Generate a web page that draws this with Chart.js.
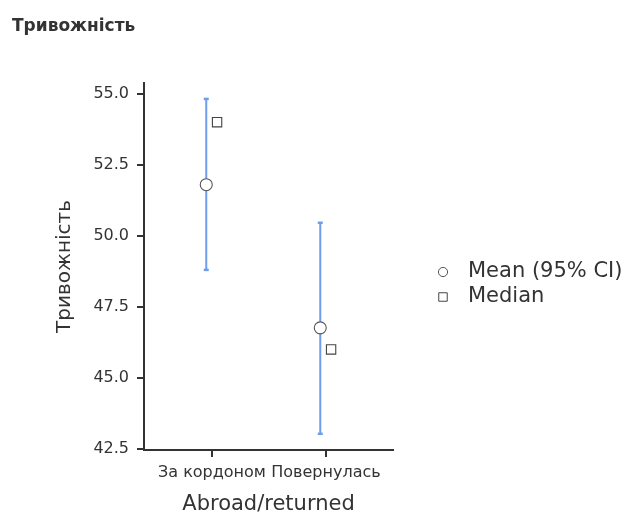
<!DOCTYPE html>
<html><head><meta charset="utf-8">
<script src="https://cdn.jsdelivr.net/npm/chart.js@4/dist/chart.umd.min.js"></script>
<style>html,body{margin:0;padding:0;background:#fff}#wrap{width:632px;height:518px;position:relative}</style>
</head><body><div id="wrap"><canvas id="c" width="632" height="518"></canvas></div>
<script>
const chartTitle = 'Тривожність';
const categories = ['За кордоном', 'Повернулась'];
const means = [51.8, 46.76];
const ciLower = [48.8, 43.03];
const ciUpper = [54.82, 50.46];
const medians = [54.0, 46.0];
const yTicks = [42.5, 45.0, 47.5, 50.0, 52.5, 55.0];
const seriesNames = ['Mean (95% CI)', 'Median'];
const xTitle = 'Abroad/returned';
const yTitle = 'Тривожність';

const FONT = "'DejaVu Sans', Verdana, sans-serif";
const TEXT = '#333333';
const AXIS = '#333333';
const CI_COLOR = '#6d9eeb';
const MEAN_SHIFT = -0.05, MED_SHIFT = 0.045;

const datasets = [
  {
    type: 'scatter', label: seriesNames[0],
    data: means.map((v, i) => ({x: i + MEAN_SHIFT, y: v})),
    pointStyle: 'circle', pointRadius: 6, pointBackgroundColor: '#ffffff',
    pointBorderColor: '#555555', pointBorderWidth: 1.1
  },
  {
    type: 'scatter', label: seriesNames[1],
    data: medians.map((v, i) => ({x: i + MED_SHIFT, y: v})),
    pointStyle: 'rect', pointRadius: 6.6, pointBackgroundColor: '#ffffff',
    pointBorderColor: '#444444', pointBorderWidth: 1.1
  }
];
categories.forEach((c, i) => {
  datasets.push({
    type: 'line', label: 'ci' + i,
    data: [{x: i + MEAN_SHIFT, y: ciLower[i]}, {x: i + MEAN_SHIFT, y: ciUpper[i]}],
    borderColor: CI_COLOR, borderWidth: 2, showLine: true,
    pointStyle: 'line', pointRadius: 2.5, pointBorderColor: CI_COLOR,
    pointBorderWidth: 2.5, pointBackgroundColor: CI_COLOR
  });
});

const sideLegend = {
  id: 'sideLegend',
  afterDraw(chart) {
    const ctx = chart.ctx;
    const ca = chart.chartArea;
    const styles = [{ds: 0, style: 'circle', r: 4.6}, {ds: 1, style: 'rect', r: 6}];
    ctx.save();
    styles.forEach((s, k) => {
      const ds = chart.data.datasets[s.ds];
      const y = 272 + k * 25;
      const x = ca.right + 50;
      ctx.fillStyle = '#ffffff';
      ctx.strokeStyle = ds.pointBorderColor;
      ctx.lineWidth = 1;
      Chart.helpers.drawPoint(ctx, {pointStyle: s.style, radius: s.r, borderWidth: 1}, x, y);
      ctx.fillStyle = TEXT;
      ctx.font = "21px " + FONT;
      ctx.textBaseline = 'middle';
      ctx.textAlign = 'left';
      ctx.fillText(ds.label, ca.right + 75, y);
    });
    ctx.restore();
  }
};

new Chart(document.getElementById('c'), {
  data: {datasets},
  plugins: [sideLegend],
  options: {
    responsive: false,
    animation: false,
    layout: {padding: {left: 12, right: 239, top: 0, bottom: 0}},
    plugins: {
      legend: {display: false},
      tooltip: {enabled: false},
      title: {
        display: true, text: chartTitle, align: 'start', color: TEXT,
        font: {family: FONT, size: 17, weight: 'bold'},
        padding: {top: 16.6, bottom: 46}
      }
    },
    scales: {
      x: {
        type: 'linear', min: -0.596, max: 1.588,
        afterBuildTicks: (s) => { s.ticks = categories.map((c, i) => ({value: i})); },
        afterFit: (s) => { s.height = 68; },
        ticks: {
          autoSkip: false, maxRotation: 0, minRotation: 0, padding: 6,
          color: TEXT, font: {family: FONT, size: 16},
          callback: (v) => categories[v]
        },
        grid: {display: true, drawOnChartArea: false, drawTicks: true, tickLength: 7, color: AXIS, lineWidth: 2},
        border: {display: true, color: AXIS, width: 2},
        title: {display: true, text: xTitle, color: TEXT, font: {family: FONT, size: 21}, padding: {top: 0, bottom: 1}}
      },
      y: {
        type: 'linear', min: 42.46, max: 55.38,
        afterBuildTicks: (s) => { s.ticks = yTicks.map(v => ({value: v})); },
        afterFit: (s) => { s.width = 132; },
        ticks: {
          padding: 8, color: TEXT, font: {family: FONT, size: 16},
          callback: (v) => Number(v).toFixed(1)
        },
        grid: {display: true, drawOnChartArea: false, drawTicks: true, tickLength: 7, color: AXIS, lineWidth: 2},
        border: {display: true, color: AXIS, width: 2},
        title: {display: true, text: yTitle, color: TEXT, font: {family: FONT, size: 20}, padding: {top: 41, bottom: 0}}
      }
    }
  }
});
</script></body></html>
